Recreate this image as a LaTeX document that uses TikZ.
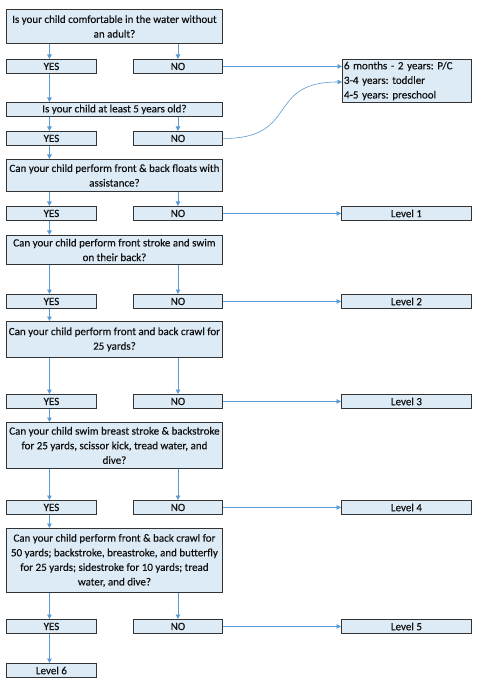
\documentclass[tikz,border=0pt]{standalone}
\usepackage{fontspec}
\setmainfont{Carlito}[FakeBold=0.35]
\usetikzlibrary{arrows.meta}
\definecolor{boxfill}{HTML}{DDEBF7}
\definecolor{boxline}{HTML}{333333}
\definecolor{arrcol}{HTML}{5B9BD5}
\definecolor{txt}{HTML}{111111}
\tikzset{
  box/.style={draw=boxline, line width=0.9pt, fill=boxfill, inner sep=0pt, align=center,
    text=txt, font=\fontsize{11}{14.6}\selectfont\frenchspacing, anchor=north west},
  small/.style={box, minimum width=90pt, minimum height=14pt},
  qbox/.style={box, minimum width=216pt},
  lvl/.style={box, minimum width=130pt, minimum height=14pt},
  arr/.style={draw=arrcol, line width=0.8pt, -{Triangle[length=4.5pt,width=4.5pt]}},
}
\begin{document}
\begin{tikzpicture}[x=1pt,y=-1pt]
\useasboundingbox (0,0) rectangle (480,684);
\fill[white] (0,0) rectangle (480,684);
% row 1
\node[qbox, minimum height=34pt] (q1) at (6,9) {Is your child comfortable in the water without\\an adult?};
\node[small] (y1) at (6,59) {YES};
\node[small, minimum width=89pt] (n1) at (133,59) {NO};
\node[box, minimum width=129pt, minimum height=43pt, align=left, text width=126pt, inner xsep=1.5pt] (pc) at (342,59) {6 months - 2 years: P/C\\3-4 years: toddler\\4-5 years: preschool};
% row 2
\node[qbox, minimum height=14pt] (q2) at (6,102) {Is your child at least 5 years old?};
\node[small] (y2) at (6,131) {YES};
\node[small, minimum width=89pt] (n2) at (133,131) {NO};
% row 3
\node[qbox, minimum height=32pt] (q3) at (6,159) {Can your child perform front \& back floats with\\assistance?};
\node[small] (y3) at (6,206) {YES};
\node[small, minimum width=89pt] (n3) at (133,206) {NO};
\node[lvl] (l1) at (341,206) {Level 1};
% row 4
\node[qbox, minimum height=29pt] (q4) at (6,235) {Can your child perform front stroke and swim\\on their back?};
\node[small] (y4) at (6,294) {YES};
\node[small, minimum width=89pt] (n4) at (133,294) {NO};
\node[lvl] (l2) at (341,294) {Level 2};
% row 5
\node[qbox, minimum height=36pt] (q5) at (6,321) {Can your child perform front and back crawl for\\25 yards?};
\node[small] (y5) at (6,394) {YES};
\node[small, minimum width=89pt] (n5) at (133,394) {NO};
\node[lvl] (l3) at (341,394) {Level 3};
% row 6
\node[qbox, minimum height=46pt] (q6) at (6,422) {Can your child swim breast stroke \& backstroke\\for 25 yards, scissor kick, tread water, and\\dive?};
\node[small] (y6) at (6,500) {YES};
\node[small, minimum width=89pt] (n6) at (133,500) {NO};
\node[lvl] (l4) at (341,500) {Level 4};
% row 7
\node[qbox, minimum height=64pt] (q7) at (6,528) {Can your child perform front \& back crawl for\\50 yards; backstroke, breastroke, and butterfly\\for 25 yards; sidestroke for 10 yards; tread\\water, and dive?};
\node[small] (y7) at (6,619) {YES};
\node[small, minimum width=89pt] (n7) at (133,619) {NO};
\node[lvl] (l5) at (341,619) {Level 5};
\node[small] (l6) at (6,663) {Level 6};
% arrows
\foreach \q/\y/\n in {q1/y1/n1, q2/y2/n2, q3/y3/n3, q4/y4/n4, q5/y5/n5, q6/y6/n6, q7/y7/n7} {
  \draw[arr] ([xshift=-2pt]\q.south -| \y.north) -- ([xshift=-2pt]\y.north);
  \draw[arr] (\q.south -| \n.north) -- (\n.north);
}
\foreach \a/\b in {y1/q2, y2/q3, y3/q4, y4/q5, y5/q6, y6/q7, y7/l6} {
  \draw[arr] ([xshift=-2pt]\a.south) -- ([xshift=-2pt]\a.south |- \b.north);
}
\foreach \n/\l in {n3/l1, n4/l2, n5/l3, n6/l4, n7/l5} {
  \draw[arr] (\n.east) -- (\l.west);
}
\draw[arr] (n1.east) -- (n1.east -| pc.west);
\coordinate (pcin) at (342,82);
\draw[arr, line width=0.6pt] (n2.east) .. controls (300,139) and (265,82) .. (pcin);
\end{tikzpicture}
\end{document}
